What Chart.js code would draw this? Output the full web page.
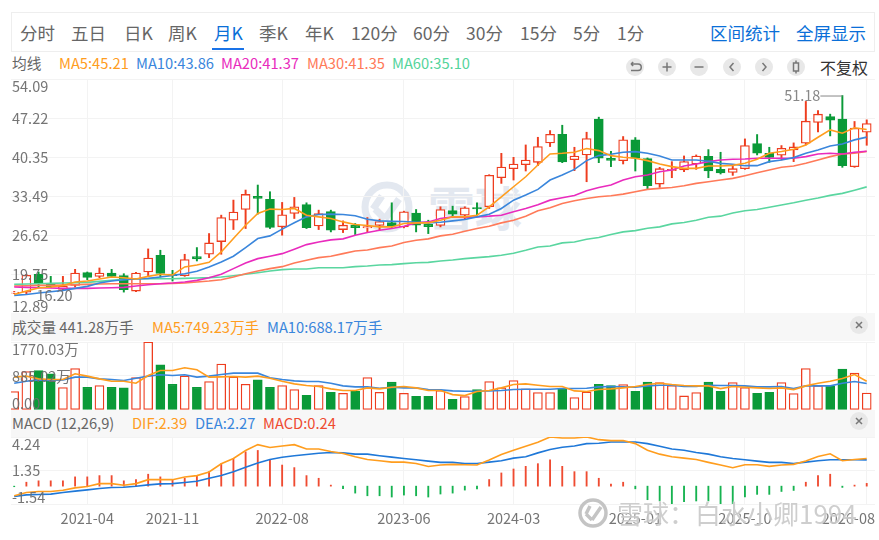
<!DOCTYPE html>
<html lang="zh-CN">
<head>
<meta charset="utf-8">
<title>月K</title>
<script src="https://cdn.jsdelivr.net/npm/chart.js@4"></script>
<style>
    html, body { margin: 0; padding: 0; background: #fff; }
    body { width: 879px; height: 540px; position: relative; overflow: hidden; font-family: "Noto Sans CJK SC", "Noto Sans", sans-serif; }
    canvas { position: absolute; left: 11px; z-index: 2; }
    .t { position: absolute; white-space: nowrap; line-height: 20px; height: 20px; z-index: 3; }
    .toolbar { position: absolute; left: 11px; top: 12px; width: 862px; height: 38px; border: 1px solid #eee; }
    .tab { font-size: 17.5px; color: #666; top: 23px; }
    .tab.blue { color: #0a6fd8; }
    .underline { position: absolute; left: 212px; top: 48px; width: 32px; height: 2px; background: #1a73e8; z-index: 3; }
    .leg { font-size: 14.7px; }
    .band { position: absolute; left: 11px; width: 864px; background: #f7f7f7; z-index: 1; }
    .btn { position: absolute; width: 18px; height: 18px; border-radius: 50%; background: #e8e8e8; z-index: 3; }
    .btn svg { display: block; }
    .mark { position: absolute; white-space: nowrap; z-index: 1; }
</style>
</head>
<body>

<div class="toolbar"></div>
<span class="t tab" style="left:20px">分时</span>
<span class="t tab" style="left:71px">五日</span>
<span class="t tab" style="left:124px">日K</span>
<span class="t tab" style="left:168px">周K</span>
<span class="t tab blue" style="left:214px">月K</span>
<span class="t tab" style="left:259px">季K</span>
<span class="t tab" style="left:305px">年K</span>
<span class="t tab" style="left:351px">120分</span>
<span class="t tab" style="left:413px">60分</span>
<span class="t tab" style="left:466px">30分</span>
<span class="t tab" style="left:520px">15分</span>
<span class="t tab" style="left:573px">5分</span>
<span class="t tab" style="left:617px">1分</span>
<span class="t tab blue" style="left:710px">区间统计</span>
<span class="t tab blue" style="left:796px">全屏显示</span>
<div class="underline"></div>

<span class="t leg" style="left:12px;top:53px;color:#666">均线</span>
<span class="t leg" style="left:59px;top:53px;color:#ff9d1e">MA5:45.21</span>
<span class="t leg" style="left:136px;top:53px;color:#3a86dc">MA10:43.86</span>
<span class="t leg" style="left:221px;top:53px;color:#e92bbd">MA20:41.37</span>
<span class="t leg" style="left:307px;top:53px;color:#ff7a59">MA30:41.35</span>
<span class="t leg" style="left:392px;top:53px;color:#55d49b">MA60:35.10</span>

<div class="btn" style="left:626px;top:58px"><svg width="18" height="18" fill="none" stroke="#777" stroke-width="1.5"><path d="M5 6h7a3 3 0 0 1 0 6.5H5M5 6l2.2-2M5 6l2.2 2"/></svg></div>
<div class="btn" style="left:658px;top:58px"><svg width="18" height="18" fill="none" stroke="#777" stroke-width="1.5"><path d="M4.5 9h9M9 4.5v9"/></svg></div>
<div class="btn" style="left:690px;top:58px"><svg width="18" height="18" fill="none" stroke="#777" stroke-width="1.5"><path d="M4.5 9h9"/></svg></div>
<div class="btn" style="left:723px;top:58px"><svg width="18" height="18" fill="none" stroke="#777" stroke-width="1.5"><path d="M10.5 5l-3.5 4 3.5 4"/></svg></div>
<div class="btn" style="left:755px;top:58px"><svg width="18" height="18" fill="none" stroke="#777" stroke-width="1.5"><path d="M7.5 5l3.5 4-3.5 4"/></svg></div>
<div class="btn" style="left:787px;top:58px"><svg width="18" height="18" fill="none" stroke="#777" stroke-width="1.5"><rect x="6.5" y="5" width="5" height="8"/><path d="M9 2.5V5M9 13v2.5"/></svg></div>
<span class="t" style="left:820px;top:57px;font-size:16px;color:#333">不复权</span>

<div class="band" style="top:313px;height:28px"></div>
<span class="t leg" style="left:12px;top:317px;color:#666">成交量 441.28万手</span>
<span class="t leg" style="left:152px;top:317px;color:#ff9d1e">MA5:749.23万手</span>
<span class="t leg" style="left:267px;top:317px;color:#3a86dc">MA10:688.17万手</span>
<div class="btn" style="left:850px;top:316px"><svg width="18" height="18" fill="none" stroke="#777" stroke-width="1.5"><path d="M6 6l6 6M12 6l-6 6"/></svg></div>

<div class="band" style="top:410px;height:27px"></div>
<span class="t leg" style="left:12px;top:413px;color:#666">MACD (12,26,9)</span>
<span class="t leg" style="left:132px;top:413px;color:#ff9d1e">DIF:2.39</span>
<span class="t leg" style="left:195px;top:413px;color:#3a86dc">DEA:2.27</span>
<span class="t leg" style="left:263px;top:413px;color:#ef4b31">MACD:0.24</span>
<div class="btn" style="left:850px;top:412px"><svg width="18" height="18" fill="none" stroke="#777" stroke-width="1.5"><path d="M6 6l6 6M12 6l-6 6"/></svg></div>

<!-- 水印 -->
<svg class="mark" style="left:360px;top:180px" width="54" height="54" fill="none" stroke="#e3e8f0" stroke-width="7"><circle cx="27" cy="27" r="22"/><path d="M15 29l10 10M22 16l-9 13M25 39l14-20"/></svg>
<span class="mark" style="left:428px;top:172px;font-size:47px;line-height:68px;font-weight:700;color:#e3e8f0">雪球</span>
<svg class="mark" style="left:577px;top:497px;z-index:4" width="32" height="32" fill="none" stroke="#c4c4c4" stroke-width="3.5"><circle cx="16" cy="16" r="13"/><path d="M9 17l6 6M13 9l-4 8M15 23l9-13"/></svg>
<span class="mark" style="left:617px;top:494px;z-index:4;font-size:26px;line-height:38px;color:rgba(190,190,190,.75);text-shadow:0 0 2px #fff">雪球：白水小卿1994</span>

<canvas id="mainChart" width="864" height="234" style="top:79px"></canvas>
<canvas id="volChart" width="864" height="68" style="top:342px"></canvas>
<canvas id="macdChart" width="864" height="97" style="top:437px"></canvas>

<script>
const months = ['2020-10','2020-11','2020-12','2021-01','2021-02','2021-03','2021-04','2021-05','2021-06','2021-07','2021-08','2021-09','2021-10','2021-11','2021-12','2022-01','2022-02','2022-03','2022-04','2022-05','2022-06','2022-07','2022-08','2022-09','2022-10','2022-11','2022-12','2023-01','2023-02','2023-03','2023-04','2023-05','2023-06','2023-07','2023-08','2023-09','2023-10','2023-11','2023-12','2024-01','2024-02','2024-03','2024-04','2024-05','2024-06','2024-07','2024-08','2024-09','2024-10','2024-11','2024-12','2025-01','2025-02','2025-03','2025-04','2025-05','2025-06','2025-07','2025-08','2025-09','2025-10','2025-11','2025-12','2026-01','2026-02','2026-03','2026-04','2026-05','2026-06','2026-07','2026-08'];
const xTickMonths = ['2021-04','2021-11','2022-08','2023-06','2024-03','2025-01','2025-10','2026-08'];

const priceTicks = [54.09, 47.22, 40.35, 33.49, 26.62, 19.75, 12.89];
const volTicks = [1770.03, 885.02, 0];
const volTickLabels = ['1770.03万', '885.02万', '0.00'];
const macdTicks = [4.24, 1.35, -1.54];

const open = [16.40,16.57,19.70,18.05,17.05,17.75,19.99,19.34,19.93,19.46,16.75,20.11,23.05,19.75,19.46,22.82,23.23,25.47,29.24,31.12,33.42,32.89,28.06,30.41,32.00,28.23,30.76,27.58,28.35,27.88,28.29,28.82,28.05,30.47,28.52,28.29,30.94,30.11,31.47,31.59,36.71,38.30,39.00,39.42,42.83,44.36,39.89,40.72,47.02,40.13,39.72,43.37,40.07,35.59,37.95,38.07,39.13,40.48,38.18,37.65,38.30,42.72,41.01,40.66,41.60,42.78,46.43,47.49,47.02,38.66,44.72];
const close = [16.57,19.52,18.05,17.46,17.64,19.93,19.17,19.93,19.34,16.99,19.93,22.58,19.87,19.46,22.29,22.41,25.23,29.71,30.65,33.77,33.07,27.94,30.18,31.60,27.93,30.41,27.46,28.35,27.93,28.11,29.00,28.23,30.70,28.35,28.11,31.11,30.29,31.41,31.23,37.12,38.59,39.12,39.83,42.19,44.36,39.48,40.54,43.60,40.13,39.77,43.37,40.13,35.30,38.30,38.18,39.54,40.54,37.89,37.54,38.30,42.37,41.01,40.30,41.89,42.13,46.66,47.90,46.84,38.83,45.43,46.25];
const high = [16.70,19.70,20.10,19.34,19.34,20.58,20.11,20.82,20.58,19.81,20.05,24.17,23.94,20.40,23.23,24.41,26.88,30.12,32.77,34.54,35.42,34.24,32.36,33.24,32.29,31.00,31.00,29.11,28.64,29.70,29.41,32.29,30.82,31.11,29.23,31.59,31.70,31.59,32.29,37.24,41.00,40.30,42.48,43.83,45.01,45.95,42.07,44.72,47.37,41.36,43.96,43.78,40.19,38.54,39.54,40.54,40.72,41.66,41.19,38.89,43.54,44.31,42.07,42.37,42.84,50.14,48.55,47.90,51.18,46.61,46.90];
const low = [16.30,16.20,17.46,17.34,16.99,17.46,18.75,19.11,19.11,16.57,16.63,19.34,19.23,18.52,19.34,22.05,22.64,23.23,27.59,27.76,30.30,27.76,26.59,29.53,27.76,27.58,27.17,27.05,26.70,27.05,27.46,27.76,27.88,27.17,26.87,28.05,29.82,29.35,30.11,31.29,35.71,36.30,37.89,38.83,42.19,39.36,37.95,36.00,39.36,38.66,39.13,37.89,34.71,35.00,36.71,37.77,38.18,36.71,37.36,37.12,38.18,40.72,39.42,39.83,39.54,42.48,44.78,44.07,38.54,38.54,42.42];

const ma5 = [16.16,16.75,17.28,17.46,17.75,18.34,18.52,18.87,19.23,19.11,18.87,19.34,19.70,19.58,21.00,21.35,21.82,23.64,26.00,28.35,30.41,31.18,31.12,31.30,30.11,29.82,29.52,28.93,28.47,28.29,28.05,28.05,28.64,28.76,28.76,29.23,29.82,29.82,30.11,31.59,33.35,35.12,36.88,38.95,40.89,41.01,41.18,41.84,41.48,40.60,40.30,40.13,39.72,39.13,38.66,38.36,38.36,38.77,38.77,38.89,39.24,39.95,41.01,41.31,41.72,42.48,43.84,45.13,44.54,45.50,45.21];
const ma10 = [16.00,16.16,16.40,16.63,16.87,17.22,17.58,18.17,18.52,18.75,18.87,18.99,19.23,19.52,19.81,20.23,21.00,21.88,22.88,24.41,26.00,26.47,27.65,28.77,29.82,30.23,30.29,30.23,30.00,29.41,29.11,29.05,29.00,28.88,28.76,28.88,29.11,29.35,29.82,30.29,31.29,32.76,33.65,34.65,36.30,37.18,38.18,39.72,40.60,40.83,41.19,41.31,41.01,40.54,39.83,39.83,39.83,39.60,39.24,39.07,38.83,38.83,39.54,39.83,40.25,41.01,41.60,42.31,42.66,43.37,43.86];
const ma20 = [17.46,17.40,17.34,17.28,17.22,17.22,17.22,17.28,17.34,17.40,17.64,17.87,18.05,18.17,18.34,18.64,19.11,19.70,20.70,21.70,22.46,22.88,23.34,24.11,24.93,25.40,25.76,25.94,26.58,27.05,27.47,27.76,28.17,28.76,28.93,29.52,29.82,29.70,29.82,29.94,30.11,30.70,31.29,31.94,32.76,33.18,33.59,34.41,35.00,35.42,36.30,36.89,37.18,37.77,38.07,38.77,39.13,39.54,39.83,39.95,40.01,40.13,40.13,40.13,40.13,40.42,40.89,41.01,40.89,41.19,41.37];
const ma30 = [17.64,17.70,17.75,17.75,17.81,17.87,17.93,17.99,18.05,18.05,18.05,18.05,18.05,18.11,18.17,18.34,18.52,18.75,19.23,19.81,20.29,20.70,21.05,21.70,22.17,22.64,22.87,23.34,23.82,23.99,24.40,24.70,25.29,25.70,25.94,26.47,26.76,27.29,27.76,28.17,28.76,29.23,29.94,30.88,31.41,32.17,32.65,33.06,33.35,33.53,33.82,34.24,34.65,34.83,35.00,35.30,35.71,36.00,36.30,36.59,37.07,37.60,38.07,38.54,38.77,39.24,39.83,40.42,40.89,41.01,41.35];
const ma60 = [17.93,17.99,18.05,18.11,18.17,18.22,18.28,18.46,18.64,18.81,18.93,18.93,18.93,18.93,18.99,19.05,19.11,19.23,19.46,19.70,19.99,20.29,20.52,20.64,20.64,20.87,20.87,20.87,21.05,21.17,21.34,21.40,21.58,21.75,21.81,22.05,22.23,22.46,22.64,22.81,23.05,23.40,23.93,24.52,24.70,25.23,25.40,25.87,26.17,26.70,27.17,27.40,27.82,28.05,28.58,28.82,29.23,29.76,29.94,30.50,30.90,31.10,31.50,31.90,32.30,32.75,33.15,33.60,33.95,34.50,35.10];

const volume = [480,1003,1029,942,584,1081,593,637,593,576,846,1770.03,1177,671,881,593,741,1195,855,671,785,593,637,532,384,637,462,436,488,846,462,724,436,358,358,506,279,349,532,741,576,767,549,453,453,567,323,471,671,637,663,488,724,715,637,366,453,724,488,715,584,436,462,715,427,1081,628,628,1064,959,441.28];
const volMa5 = [855,881,811,793,793,942,881,811,750,750,698,898,1029,1029,1099,1046,855,863,872,855,881,828,750,680,637,610,549,506,506,576,549,593,610,576,506,506,401,375,480,506,576,663,680,645,610,610,497,480,532,549,576,610,663,698,663,637,628,628,558,610,593,576,558,576,532,628,698,750,820,924,749.23];
const volMa10 = [698,750,785,767,785,855,855,811,794,767,828,881,916,898,916,855,881,924,959,959,959,837,794,759,741,741,698,628,602,602,567,593,576,576,532,523,497,488,488,497,506,532,541,541,541,558,558,567,602,610,602,593,628,645,645,610,610,645,637,637,628,602,602,610,558,628,628,628,698,741,688.17];

const dif = [-0.83,-0.55,-0.46,-0.46,-0.35,-0.15,-0.03,0.22,0.22,0.08,0.22,0.56,0.56,0.56,0.79,0.91,1.22,1.93,2.39,3.07,3.58,3.33,3.47,3.58,3.21,3.21,2.99,2.82,2.53,2.30,2.19,2.07,2.07,1.96,1.70,1.82,1.88,1.85,1.82,2.25,2.73,3.10,3.44,3.78,4.24,4.15,4.15,4.24,4.01,3.93,3.93,3.67,3.10,2.76,2.53,2.42,2.30,2.05,1.82,1.59,1.85,1.85,1.71,1.82,1.88,2.16,2.56,2.79,2.19,2.30,2.39];
const dea = [-0.89,-0.75,-0.72,-0.69,-0.55,-0.43,-0.32,-0.20,-0.12,-0.09,-0.01,0.11,0.20,0.22,0.31,0.42,0.68,0.91,1.25,1.62,1.99,2.30,2.50,2.62,2.73,2.84,2.90,2.87,2.76,2.76,2.62,2.50,2.39,2.28,2.16,2.05,2.05,1.96,1.96,2.07,2.19,2.42,2.53,2.87,3.16,3.36,3.47,3.67,3.70,3.81,3.81,3.81,3.67,3.44,3.21,3.10,2.90,2.76,2.53,2.39,2.28,2.16,2.05,2.05,1.96,2.07,2.19,2.28,2.28,2.28,2.27];
const macdBar = [-0.05,0.34,0.46,0.46,0.46,0.80,0.80,0.91,0.91,0.46,0.57,1.03,0.80,0.57,0.68,0.91,1.25,1.94,2.39,2.96,3.08,2.28,1.82,1.60,0.91,0.68,0.09,-0.22,-0.60,-0.83,-0.83,-0.94,-0.77,-0.83,-0.94,-0.68,-0.60,-0.34,-0.23,0.57,1.14,1.48,1.71,1.94,2.28,1.71,1.25,1.25,0.68,0.17,0.34,-0.23,-1.17,-1.28,-1.51,-1.34,-1.28,-1.28,-1.60,-1.65,-0.94,-0.71,-0.71,-0.46,-0.37,0.34,0.91,1.03,-0.11,0.09,0.24];

const RED = '#ee3d1f';
const GREEN = '#0a9a38';
const FONT = '14.5px "Noto Sans CJK SC"';
const TEXT_COLOR = 'rgba(110,110,110,0.95)';

const points = (arr) => arr.map((y, i) => ({ x: i, y: y }));
const isUp = (i) => close[i] >= open[i];
const xTickIndex = xTickMonths.map((m) => months.indexOf(m));

// Подпись осей рисуем сами: крайние значения сдвинуты внутрь панели
const axisText = {
    id: 'axisText',
    afterDatasetsDraw(chart, args, opts) {
        const ctx = chart.ctx;
        const yScale = chart.scales.y;
        ctx.save();
        ctx.font = FONT;
        ctx.fillStyle = TEXT_COLOR;
        ctx.textBaseline = 'middle';
        ctx.textAlign = 'left';
        opts.values.forEach((v, i) => {
            let shift = 0;
            if (i === 0) shift = 7;
            if (i === opts.values.length - 1) shift = -7;
            ctx.fillText(opts.labels[i], 1, yScale.getPixelForValue(v) + shift);
        });
        ctx.restore();
    }
};

const priceNotes = {
    id: 'priceNotes',
    afterDatasetsDraw(chart) {
        const ctx = chart.ctx;
        const { x: xScale, y: yScale } = chart.scales;
        const top = high.indexOf(Math.max(...high));
        const bottom = low.indexOf(Math.min(...low));
        const topX = xScale.getPixelForValue(top);
        const topY = yScale.getPixelForValue(high[top]);
        ctx.save();
        ctx.font = FONT;
        ctx.fillStyle = '#888';
        ctx.strokeStyle = '#888';
        ctx.lineWidth = 1;
        ctx.beginPath();
        ctx.moveTo(topX, topY + 0.5);
        ctx.lineTo(topX - 22, topY + 0.5);
        ctx.stroke();
        ctx.textBaseline = 'middle';
        ctx.textAlign = 'right';
        ctx.fillText(high[top].toFixed(2), topX - 22, topY);
        ctx.textAlign = 'left';
        ctx.fillStyle = TEXT_COLOR;
        ctx.fillText(low[bottom].toFixed(2), xScale.getPixelForValue(bottom) + 10, yScale.getPixelForValue(low[bottom]) + 1);
        ctx.restore();
    }
};

const dateLabels = {
    id: 'dateLabels',
    afterDatasetsDraw(chart) {
        const ctx = chart.ctx;
        const xScale = chart.scales.x;
        ctx.save();
        ctx.font = FONT;
        ctx.fillStyle = TEXT_COLOR;
        ctx.textBaseline = 'middle';
        xTickIndex.forEach((idx, i) => {
            const last = i === xTickIndex.length - 1;
            ctx.textAlign = last ? 'right' : 'center';
            ctx.fillText(months[idx], last ? chart.width : xScale.getPixelForValue(idx), chart.height - 16);
        });
        ctx.restore();
    }
};

function baseOptions(yMin, yMax, yValues, yLabels, bottomPad) {
    return {
        responsive: false,
        animation: false,
        events: [],
        layout: { padding: { left: 0, right: 0, top: 0, bottom: bottomPad } },
        plugins: {
            legend: { display: false },
            tooltip: { enabled: false },
            axisText: { values: yValues, labels: yLabels }
        },
        scales: {
            x: {
                type: 'linear',
                offset: false,
                min: -0.263,
                max: 70.68,
                afterBuildTicks: (scale) => { scale.ticks = xTickIndex.map((v) => ({ value: v })); },
                ticks: { display: false },
                border: { display: false },
                grid: { color: '#f3f3f3', drawTicks: false, offset: false }
            },
            y: {
                type: 'linear',
                min: yMin,
                max: yMax,
                afterBuildTicks: (scale) => { scale.ticks = yValues.map((v) => ({ value: v })); },
                ticks: { display: false },
                border: { display: false },
                grid: { color: '#f3f3f3', drawTicks: false }
            }
        }
    };
}

function lineSet(values, color, order) {
    return {
        type: 'line',
        data: points(values),
        borderColor: color,
        borderWidth: 1.6,
        pointRadius: 0,
        fill: false,
        tension: 0,
        order: order
    };
}

// K 线
new Chart(document.getElementById('mainChart').getContext('2d'), {
    data: {
        datasets: [
            lineSet(ma5, '#ff9d1e', 1),
            lineSet(ma10, '#3a86dc', 1),
            lineSet(ma20, '#e92bbd', 1),
            lineSet(ma30, '#ff7a59', 1),
            lineSet(ma60, '#5ad6a0', 1),
            {
                type: 'bar',
                grouped: false,
                order: 2,
                barThickness: 9,
                data: open.map((o, i) => ({ x: i, y: [o, close[i]] })),
                backgroundColor: open.map((o, i) => isUp(i) ? '#fff' : GREEN),
                borderColor: open.map((o, i) => isUp(i) ? RED : GREEN),
                borderWidth: 1.3,
                borderSkipped: false
            },
            {
                type: 'bar',
                grouped: false,
                order: 3,
                barThickness: 1.3,
                data: low.map((l, i) => ({ x: i, y: [l, high[i]] })),
                backgroundColor: low.map((l, i) => isUp(i) ? RED : GREEN)
            }
        ]
    },
    options: baseOptions(12.89, 54.09, priceTicks, priceTicks.map((v) => v.toFixed(2)), 0),
    plugins: [axisText, priceNotes]
});

// 成交量
new Chart(document.getElementById('volChart').getContext('2d'), {
    data: {
        datasets: [
            lineSet(volMa5, '#ff9d1e', 1),
            lineSet(volMa10, '#3a86dc', 1),
            {
                type: 'bar',
                order: 2,
                barThickness: 9,
                data: points(volume),
                backgroundColor: volume.map((v, i) => isUp(i) ? '#fff' : GREEN),
                borderColor: volume.map((v, i) => isUp(i) ? RED : GREEN),
                borderWidth: 1.3,
                borderSkipped: false
            }
        ]
    },
    options: baseOptions(0, 1770.03, volTicks, volTickLabels, 0),
    plugins: [axisText]
});

// MACD
new Chart(document.getElementById('macdChart').getContext('2d'), {
    data: {
        datasets: [
            lineSet(dif, '#ff9d1e', 1),
            lineSet(dea, '#1f78d8', 1),
            {
                type: 'bar',
                order: 2,
                barThickness: 1.2,
                data: points(macdBar),
                backgroundColor: macdBar.map((v) => v >= 0 ? '#ef4b31' : '#16b350')
            }
        ]
    },
    options: baseOptions(-1.54, 4.24, macdTicks, macdTicks.map((v) => v.toFixed(2)), 30),
    plugins: [axisText, dateLabels]
});
</script>
</body>
</html>
